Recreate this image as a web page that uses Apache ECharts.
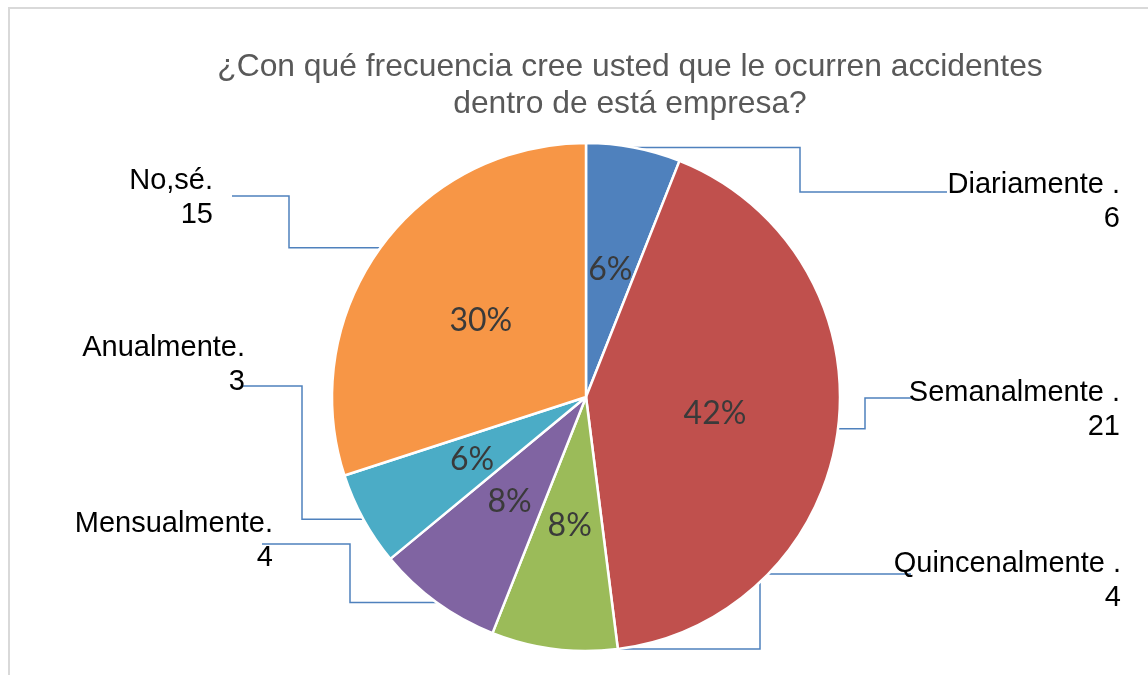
<!DOCTYPE html>
<html>
<head>
<meta charset="utf-8">
<title>Frecuencia de accidentes</title>
<script src="https://cdn.jsdelivr.net/npm/echarts@6/dist/echarts.min.js"></script>
<style>
    body { margin: 0; background: #fff; overflow: hidden; }
    #frame { position: absolute; left: 8px; top: 7px; width: 1200px; height: 720px; border: 2px solid #d9d9d9; }
    #chart { position: absolute; left: 0; top: 0; width: 1148px; height: 675px; }
</style>
</head>
<body>
<div id="frame"></div>
<div id="chart"></div>
<script>
// datos del grafico
const categories = ['Diariamente .', 'Semanalmente .', 'Quincenalmente .', 'Mensualmente.', 'Anualmente.', 'No,sé.'];
const sliceValues = [3, 21, 4, 4, 3, 15];
const labelCounts = [6, 21, 4, 4, 3, 15];
const colors = ['#4F81BD', '#C0504D', '#9BBB59', '#8064A2', '#4BACC6', '#F79646'];

// posicion de las etiquetas exteriores (estilo Excel)
const labelSpots = [
    { x: 1120, y: 202, elbowX: 800, lineY: 192, endX: 947 },
    { x: 1120, y: 410, elbowX: 865, lineY: 398, endX: 912 },
    { x: 1121, y: 581, elbowX: 760, lineY: 574, endX: 911 },
    { x: 273, y: 541, elbowX: 350, lineY: 544, endX: 262 },
    { x: 245, y: 365, elbowX: 302, lineY: 386, endX: 242 },
    { x: 213, y: 198, elbowX: 289, lineY: 196, endX: 232 }
];

const pieData = categories.map(function (name, i) {
    return { name: name, value: sliceValues[i], count: labelCounts[i] };
});

const option = {
    animation: false,
    color: colors,
    title: {
        text: '¿Con qué frecuencia cree usted que le ocurren accidentes\ndentro de está empresa?',
        left: 625,
        top: 44,
        textAlign: 'center',
        textStyle: {
            fontFamily: 'Liberation Sans',
            fontSize: 31.8,
            fontWeight: 'normal',
            color: '#595959',
            lineHeight: 37
        }
    },
    series: [
        {
            type: 'pie',
            center: [586, 397],
            radius: 254,
            startAngle: 90,
            clockwise: true,
            percentPrecision: 0,
            silent: true,
            itemStyle: { borderColor: '#fff', borderWidth: 2.5 },
            label: {
                show: true,
                position: 'inside',
                formatter: '{d}%',
                fontFamily: 'Lato',
                fontSize: 32,
                color: '#3a3a3a'
            },
            labelLine: { show: false },
            data: pieData
        },
        {
            type: 'pie',
            center: [586, 397],
            radius: 254,
            startAngle: 90,
            clockwise: true,
            silent: true,
            itemStyle: { color: 'rgba(0,0,0,0)', borderWidth: 0 },
            label: {
                show: true,
                position: 'outside',
                formatter: function (p) {
                    return p.name + '\n' + p.data.count;
                },
                fontFamily: 'Liberation Sans',
                fontSize: 29,
                lineHeight: 34,
                color: '#000'
            },
            labelLine: {
                show: true,
                lineStyle: { color: '#4F81BD', width: 1.5 }
            },
            labelLayout: function (p) {
                const s = labelSpots[p.dataIndex];
                const start = p.labelLinePoints ? p.labelLinePoints[0] : [s.elbowX, s.lineY];
                return {
                    x: s.x,
                    y: s.y,
                    align: 'right',
                    verticalAlign: 'middle',
                    labelLinePoints: [start, [s.elbowX, start[1]], [s.elbowX, s.lineY], [s.endX, s.lineY]]
                };
            },
            data: pieData
        }
    ]
};

const myChart = echarts.init(document.getElementById('chart'));
myChart.setOption(option);

window.onresize = function () {
    myChart.resize();
};
</script>
</body>
</html>
